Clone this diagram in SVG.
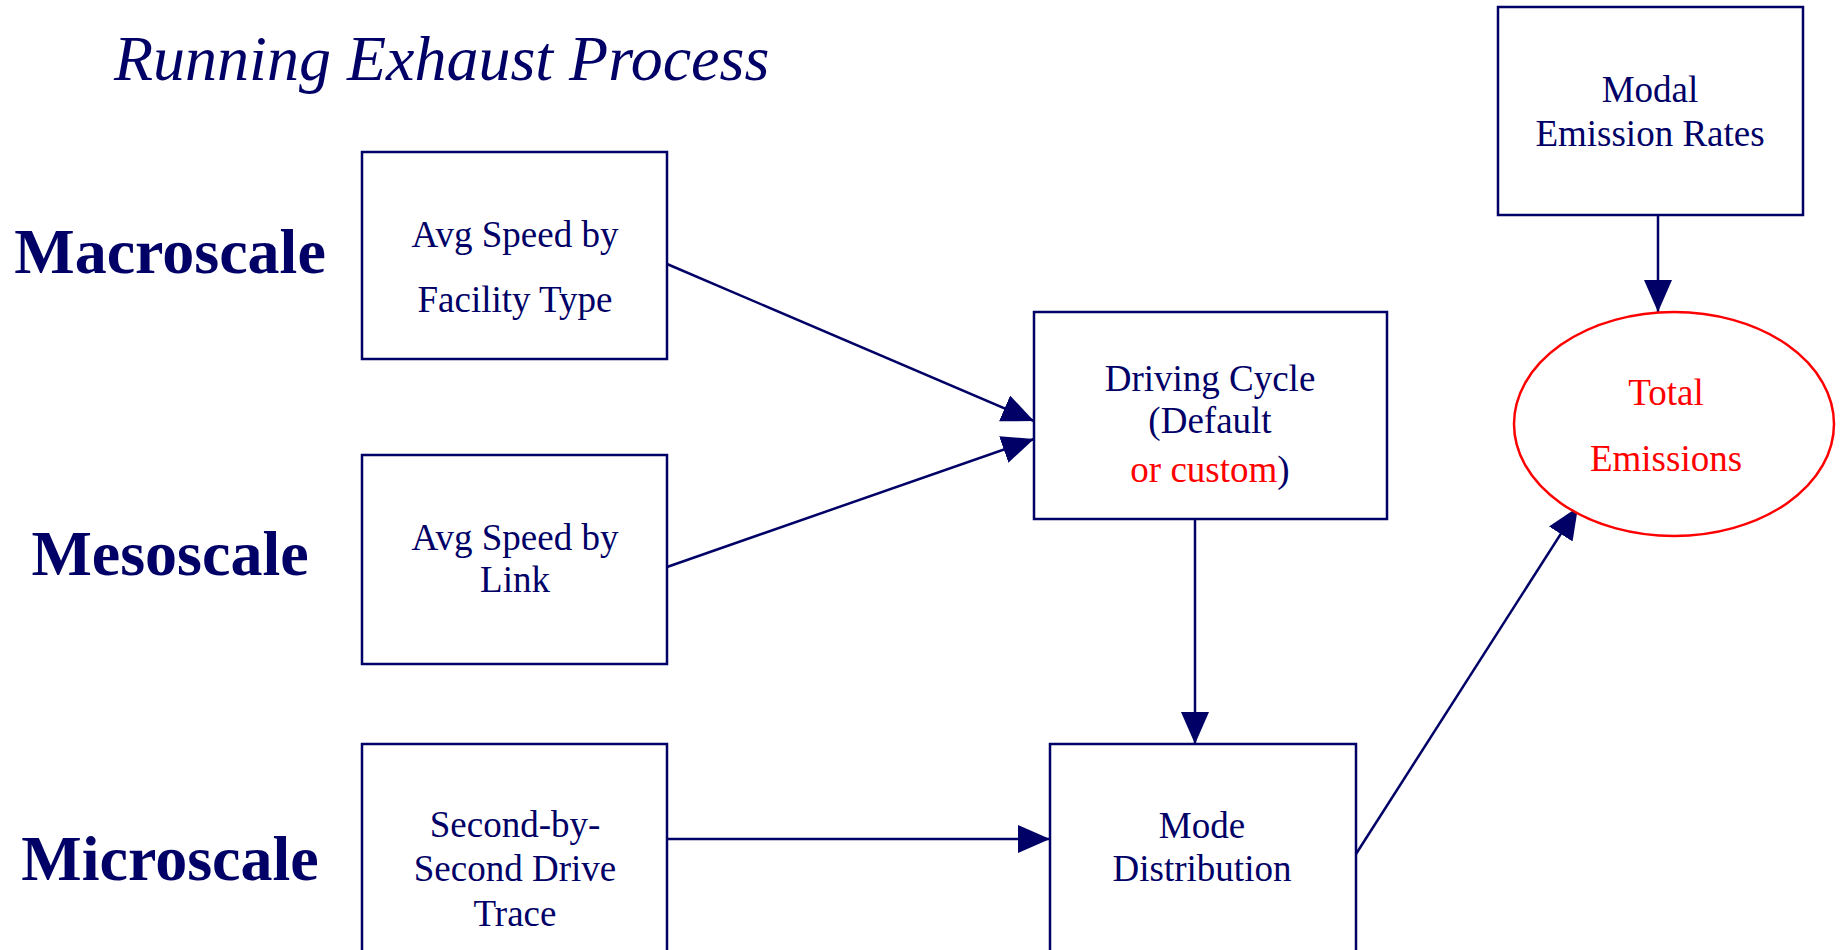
<svg xmlns="http://www.w3.org/2000/svg" width="1845" height="950" viewBox="0 0 1845 950">
  <defs>
    <marker id="arrow" markerUnits="userSpaceOnUse" markerWidth="34" markerHeight="30" refX="32" refY="14" orient="auto">
      <path d="M0,0 L32,14 L0,28 Z" fill="#000066"/>
    </marker>
  </defs>
  <style>
    text { font-family: "Liberation Serif", "Times New Roman", serif; fill: #000066; }
    .title { font-size: 64px; font-style: italic; }
    .scale { font-size: 64px; font-weight: bold; text-anchor: middle; }
    .lbl { font-size: 37px; text-anchor: middle; }
    .red { fill: #ff0000; }
    .box { fill: #ffffff; stroke: #000066; stroke-width: 2.5; }
    .oval { fill: #ffffff; stroke: #ff0000; stroke-width: 2.5; }
    .edge { fill: none; stroke: #000066; stroke-width: 2.5; marker-end: url(#arrow); }
  </style>
  <rect width="1845" height="950" fill="#ffffff"/>

  <text class="title" x="114" y="80">Running Exhaust Process</text>

  <text class="scale" x="170" y="273">Macroscale</text>
  <text class="scale" x="170" y="575">Mesoscale</text>
  <text class="scale" x="170" y="880">Microscale</text>

  <g id="connectors">
    <line class="edge" x1="667" y1="264" x2="1034" y2="421"/>
    <line class="edge" x1="667" y1="567" x2="1034" y2="439"/>
    <line class="edge" x1="1195" y1="519" x2="1195" y2="744"/>
    <line class="edge" x1="667" y1="839" x2="1050" y2="839"/>
    <line class="edge" x1="1356" y1="854" x2="1578" y2="507"/>
    <line class="edge" x1="1658" y1="215" x2="1658" y2="312"/>
  </g>

  <g id="avg-speed-facility">
    <rect class="box" x="362" y="152" width="305" height="207"/>
    <text class="lbl" x="515" y="247">Avg Speed by</text>
    <text class="lbl" x="515" y="312">Facility Type</text>
  </g>

  <g id="avg-speed-link">
    <rect class="box" x="362" y="455" width="305" height="209"/>
    <text class="lbl" x="515" y="550">Avg Speed by</text>
    <text class="lbl" x="515" y="592">Link</text>
  </g>

  <g id="drive-trace">
    <rect class="box" x="362" y="744" width="305" height="230"/>
    <text class="lbl" x="515" y="837">Second-by-</text>
    <text class="lbl" x="515" y="881">Second Drive</text>
    <text class="lbl" x="515" y="926">Trace</text>
  </g>

  <g id="driving-cycle">
    <rect class="box" x="1034" y="312" width="353" height="207"/>
    <text class="lbl" x="1210" y="391">Driving Cycle</text>
    <text class="lbl" x="1210" y="433">(Default</text>
    <text class="lbl" x="1210" y="482"><tspan class="red">or custom</tspan>)</text>
  </g>

  <g id="mode-distribution">
    <rect class="box" x="1050" y="744" width="306" height="230"/>
    <text class="lbl" x="1202" y="838">Mode</text>
    <text class="lbl" x="1202" y="881">Distribution</text>
  </g>

  <g id="modal-emission-rates">
    <rect class="box" x="1498" y="7" width="305" height="208"/>
    <text class="lbl" x="1650" y="102">Modal</text>
    <text class="lbl" x="1650" y="146">Emission Rates</text>
  </g>

  <g id="total-emissions">
    <ellipse class="oval" cx="1674" cy="424" rx="160" ry="112"/>
    <text class="lbl red" x="1666" y="405">Total</text>
    <text class="lbl red" x="1666" y="471">Emissions</text>
  </g>
</svg>
